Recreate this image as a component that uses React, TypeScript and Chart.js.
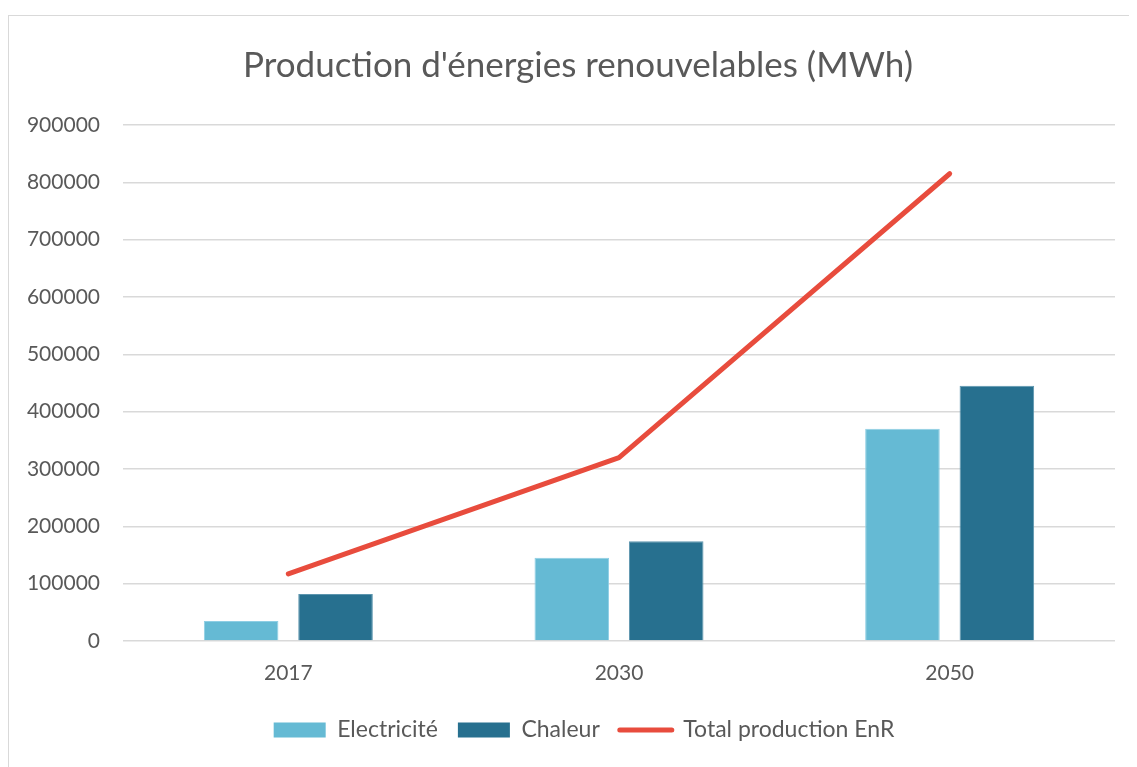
import React, { useEffect, useRef } from "react";
import { Chart, registerables } from "chart.js";

Chart.register(...registerables);

const categories = ["2017", "2030", "2050"];
const electricite = [35000, 145000, 370000];
const chaleur = [82000, 174000, 445000];
const total = [117000, 320000, 815000];
const yTicks = [0, 100000, 200000, 300000, 400000, 500000, 600000, 700000, 800000, 900000];

const TITLE = "Production d'énergies renouvelables (MWh)";
const FONT = "Lato, 'Open Sans', sans-serif";
const TEXT = "#595959";

// shift title and legend horizontally to match the reference centring
const shiftPlugin = {
  id: "shiftBoxes",
  afterLayout(chart: any) {
    const t = chart.titleBlock;
    if (t) {
      t.left += 16;
      t.right += 16;
    }
    const l = chart.legend;
    if (l) {
      l.left += 22;
      l.right += 22;
    }
  },
};

export default function App() {
  const ref = useRef<HTMLCanvasElement>(null);

  useEffect(() => {
    document.body.style.overflow = "hidden";
    const canvas = ref.current;
    if (!canvas) return;
    const chart = new Chart(canvas, {
      type: "bar",
      data: {
        labels: categories,
        datasets: [
          {
            label: "Electricité",
            data: electricite,
            backgroundColor: "#65BAD4",
            borderColor: "#8ECEE4",
            borderWidth: 1,
            categoryPercentage: 0.571,
            barPercentage: 0.79,
          },
          {
            label: "Chaleur",
            data: chaleur,
            backgroundColor: "#27708F",
            borderColor: "#5C95AE",
            borderWidth: 1,
            categoryPercentage: 0.571,
            barPercentage: 0.79,
          },
          {
            type: "line",
            label: "Total production EnR",
            data: total,
            borderColor: "#E84C3D",
            backgroundColor: "#E84C3D",
            borderWidth: 5,
            pointRadius: 0,
            borderCapStyle: "round",
            borderJoinStyle: "round",
            tension: 0,
            fill: false,
          } as any,
        ],
      },
      plugins: [shiftPlugin],
      options: {
        responsive: false,
        animation: false,
        layout: { padding: { left: 0, right: 35, top: 0, bottom: 33.5 } },
        plugins: {
          title: {
            display: true,
            text: TITLE,
            color: TEXT,
            font: { family: FONT, size: 35, weight: "normal" },
            padding: { top: 29, bottom: 38 },
          },
          legend: {
            position: "bottom",
            labels: {
              color: TEXT,
              font: { family: FONT, size: 23 },
              usePointStyle: true,
              pointStyleWidth: 52,
              boxHeight: 15,
              padding: 20,
              generateLabels: (c: any) => {
                const items = Chart.defaults.plugins.legend.labels.generateLabels(c);
                return items.map((it: any, i: number) => {
                  if (i === 2) {
                    return { ...it, pointStyle: "line", lineWidth: 5, lineCap: "round", strokeStyle: "#E84C3D" };
                  }
                  return { ...it, pointStyle: "rect", lineWidth: 0 };
                });
              },
            },
          },
          tooltip: { enabled: false },
        },
        scales: {
          x: {
            grid: { display: false, drawTicks: false },
            border: { display: false },
            ticks: { color: TEXT, font: { family: FONT, size: 21 }, padding: 20 },
            afterFit: (s: any) => {
              s.height = 57.5;
            },
          },
          y: {
            min: 0,
            max: 900000,
            afterBuildTicks: (s: any) => {
              s.ticks = yTicks.map((v) => ({ value: v }));
            },
            grid: { color: "#D9D9D9", lineWidth: 1.5, drawTicks: false },
            border: { display: false },
            ticks: {
              color: TEXT,
              font: { family: FONT, size: 21 },
              padding: 23,
              callback: (v: any) => String(v),
            },
            afterFit: (s: any) => {
              s.width = 114;
            },
          },
        },
      },
    });
    return () => chart.destroy();
  }, []);

  return (
    <div
      style={{
        marginTop: 7,
        width: 1141,
        height: 769,
        border: "1px solid #D9D9D9",
        background: "#fff",
        overflow: "hidden",
      }}
    >
      <canvas ref={ref} width={1141} height={769} style={{ display: "block", width: 1141, height: 769 }} />
    </div>
  );
}
